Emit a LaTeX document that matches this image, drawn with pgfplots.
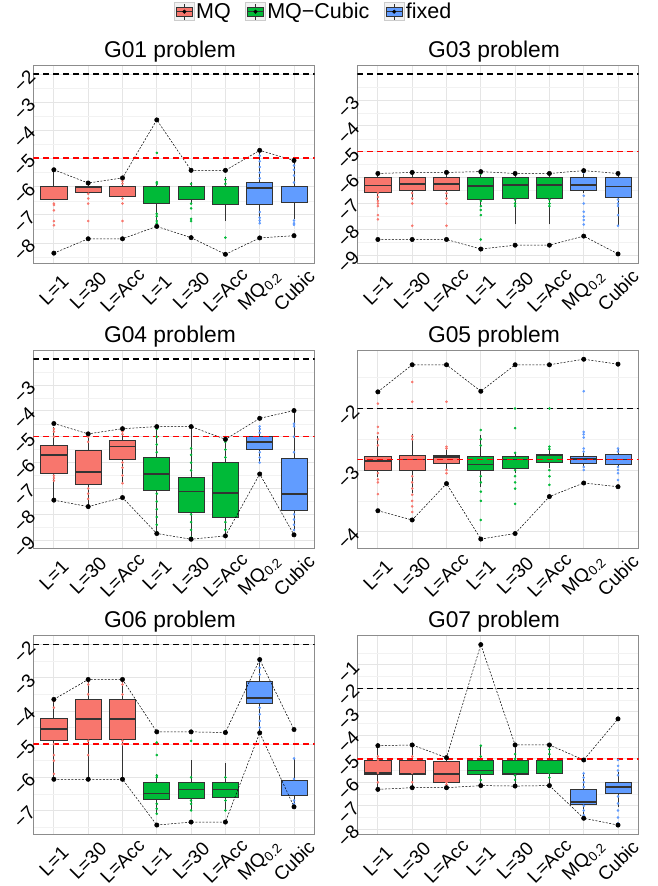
\documentclass[border=0pt]{standalone}
\usepackage{fontspec}
\setmainfont{Liberation Sans}
\usepackage{pgfplots}
\pgfplotsset{compat=1.18}
\definecolor{cR}{HTML}{F8766D}
\definecolor{cG}{HTML}{00BA38}
\definecolor{cB}{HTML}{619CFF}
\definecolor{bl}{HTML}{333333}
\definecolor{hred}{HTML}{FF0000}

% box: colour, position, lower whisker, lower quartile, median, upper quartile, upper whisker
\newcommand{\bx}[7]{%
  \pgfmathsetmacro{\xl}{#2-0.38}\pgfmathsetmacro{\xr}{#2+0.38}%
  \addplot[draw=bl, line width=0.8pt] coordinates {(#2,#3) (#2,#4)};
  \addplot[draw=bl, line width=0.8pt] coordinates {(#2,#6) (#2,#7)};
  \addplot[draw=bl, fill=#1, line width=0.8pt] coordinates {(\xl,#4) (\xr,#4) (\xr,#6) (\xl,#6)} -- cycle;
  \addplot[draw=bl, line width=1.6pt] coordinates {(\xl,#5) (\xr,#5)};
}
\newcommand{\pts}[2]{\addplot[only marks, mark=*, mark size=1.1pt, draw=#1, fill=#1] coordinates {#2};}
\newcommand{\mm}[1]{\addplot[black, line width=0.5pt, dash pattern=on 2pt off 1.5pt, mark=*, mark size=2.2pt, mark options={solid, fill=black}] coordinates {#1};}
\newcommand{\hl}[2]{\addplot[color=#1, solid, line width=1.5pt, dash pattern=on 6pt off 4pt, mark=none] coordinates {(0.4,#2) (8.6,#2)};}
\newcommand{\legbox}[1]{%
  \draw[black!20, fill=black!5, line width=0.5pt] (0pt,-9pt) rectangle (20pt,9pt);
  \draw[bl, line width=0.6pt] (10pt,-8pt) -- (10pt,8pt);
  \draw[bl, fill=#1, line width=0.6pt] (2pt,-4.5pt) rectangle (18pt,4.5pt);
  \draw[bl, line width=0.6pt] (2pt,0pt) -- (18pt,0pt);
  \fill[black] (10pt,0pt) circle (1.8pt);}

\pgfplotsset{panel/.style={
  scale only axis, width=281.3pt, height=198.3pt, anchor=south west,
  xmin=0.4, xmax=8.6,
  xtick={1,2,3,4,5,6,7,8},
  xticklabels={{L=1},{L=30},{L=Acc},{L=1},{L=30},{L=Acc},{MQ\textsubscript{0.2}},{Cubic}},
  grid=both,
  major grid style={draw=black!10, line width=0.8pt},
  minor grid style={draw=black!5, line width=0.5pt},
  axis line style={draw=black!45, line width=0.9pt},
  major tick length=0pt, minor tick length=0pt,
  xticklabel style={font=\fontsize{19}{21}\selectfont, anchor=center, rotate=45},
  xticklabel shift=27pt,
  yticklabel style={font=\fontsize{19}{21}\selectfont, anchor=center, yshift=-7pt, rotate=45},
  yticklabel shift=9pt,
  title style={font=\fontsize{22.8}{25}\selectfont, at={(0.5,1)}, anchor=base, yshift=1.7pt, xshift=-4pt},
}}

\begin{document}
\begin{tikzpicture}
\useasboundingbox (0,0) rectangle (658pt,886pt);

% ---------------- G01
\begin{axis}[panel, at={(33.3pt,622.7pt)}, title={G01 problem},
  ymin=-8.72, ymax=-1.68,
  ytick={-8,-7,-6,-5,-4,-3,-2}, yticklabels={−8,−7,−6,−5,−4,−3,−2},
  minor ytick={-8.5,-7.5,-6.5,-5.5,-4.5,-3.5,-2.5},
  legend style={at={(0.996,1.2688)}, anchor=center, draw=none, fill=none,
    font=\fontsize{21.5}{23}\selectfont, nodes={inner sep=1.5pt},
    /tikz/every even column/.append style={column sep=13pt}},
  legend columns=3, legend cell align=left]
\addlegendimage{legend image code/.code={\legbox{cR}}}\addlegendentry{MQ}
\addlegendimage{legend image code/.code={\legbox{cG}}}\addlegendentry{MQ−Cubic}
\addlegendimage{legend image code/.code={\legbox{cB}}}\addlegendentry{fixed}
\bx{cR}{1}{-6.46}{-6.46}{-6.0}{-5.99}{-5.40}
\bx{cR}{2}{-6.19}{-6.19}{-6.02}{-5.98}{-5.87}
\bx{cR}{3}{-6.34}{-6.34}{-6.0}{-5.98}{-5.72}
\bx{cG}{4}{-7.2}{-6.6}{-6.0}{-5.99}{-5.84}
\bx{cG}{5}{-6.6}{-6.46}{-6.0}{-5.99}{-5.84}
\bx{cG}{6}{-7.22}{-6.63}{-6.0}{-5.99}{-5.66}
\bx{cB}{7}{-7.29}{-6.64}{-6.04}{-5.86}{-4.7}
\bx{cB}{8}{-7.14}{-6.55}{-6.0}{-5.99}{-5.07}
\pts{cR}{(1,-6.6)(1,-6.65)(1,-6.84)(1,-7.22)(1,-7.37)(2,-6.1)(2,-6.25)(2,-6.42)(2,-6.6)(2,-7.22)(3,-5.8)(3,-5.9)(3,-6.42)(3,-6.6)(3,-7.22)}
\pts{cG}{(4,-4.8)(4,-5.84)(4,-5.9)(4,-6.96)(4,-7.05)(4,-7.22)(4,-7.3)(5,-5.9)(5,-6.6)(5,-6.77)(5,-7.14)(5,-7.22)(6,-5.75)(6,-5.9)(6,-7.81)}
\pts{cB}{(7,-4.75)(7,-4.9)(7,-5.1)(7,-5.3)(7,-5.5)(7,-5.7)(7,-6.9)(7,-7.1)(7,-7.2)(7,-7.3)(8,-5.1)(8,-5.25)(8,-5.4)(8,-5.6)(8,-5.85)(8,-6.2)(8,-6.5)(8,-7.2)(8,-7.3)(8,-7.35)}
\mm{(1,-5.40)(2,-5.87)(3,-5.69)(4,-3.63)(5,-5.42)(6,-5.42)(7,-4.71)(8,-5.07)}
\mm{(1,-8.36)(2,-7.85)(3,-7.85)(4,-7.41)(5,-7.81)(6,-8.40)(7,-7.82)(8,-7.74)}
\hl{black}{-2}
\hl{hred}{-4.98}
\end{axis}

% ---------------- G03
\begin{axis}[panel, at={(357.3pt,622.7pt)}, title={G03 problem},
  ymin=-9.31, ymax=-1.65,
  ytick={-9,-8,-7,-6,-5,-4,-3}, yticklabels={−9,−8,−7,−6,−5,−4,−3},
  minor ytick={-8.5,-7.5,-6.5,-5.5,-4.5,-3.5,-2.5}]
\bx{cR}{1}{-6.87}{-6.56}{-6.31}{-5.99}{-5.85}
\bx{cR}{2}{-6.85}{-6.49}{-6.25}{-5.99}{-5.82}
\bx{cR}{3}{-6.85}{-6.49}{-6.25}{-5.99}{-5.82}
\bx{cG}{4}{-7.1}{-6.84}{-6.32}{-5.99}{-5.80}
\bx{cG}{5}{-7.81}{-6.79}{-6.29}{-5.99}{-5.84}
\bx{cG}{6}{-7.81}{-6.79}{-6.29}{-5.99}{-5.84}
\bx{cB}{7}{-6.6}{-6.51}{-6.29}{-5.99}{-5.76}
\bx{cB}{8}{-7.86}{-6.75}{-6.35}{-5.99}{-5.84}
\pts{cR}{(1,-6.6)(1,-6.75)(1,-6.9)(1,-7.0)(1,-7.1)(1,-7.45)(1,-7.61)(2,-6.6)(2,-6.8)(2,-7.0)(2,-7.86)(3,-6.6)(3,-6.8)(3,-7.0)(3,-7.86)}
\pts{cG}{(4,-5.85)(4,-6.9)(4,-7.1)(4,-7.25)(4,-7.45)(4,-8.39)(5,-6.85)(5,-7.0)(5,-7.1)(6,-6.85)(6,-7.0)(6,-7.1)}
\pts{cB}{(7,-5.8)(7,-6.7)(7,-7.0)(7,-7.32)(7,-7.5)(7,-7.64)(7,-7.81)(8,-6.85)(8,-7.0)(8,-7.1)(8,-7.45)(8,-7.86)}
\mm{(1,-5.84)(2,-5.80)(3,-5.80)(4,-5.77)(5,-5.84)(6,-5.84)(7,-5.73)(8,-5.84)}
\mm{(1,-8.39)(2,-8.39)(3,-8.39)(4,-8.76)(5,-8.61)(6,-8.61)(7,-8.26)(8,-8.95)}
\hl{black}{-2}
\hl{hred}{-5.0}
\end{axis}

% ---------------- G04
\begin{axis}[panel, at={(33.3pt,337.7pt)}, title={G04 problem},
  ymin=-9.31, ymax=-1.65,
  ytick={-9,-8,-7,-6,-5,-4,-3}, yticklabels={−9,−8,−7,−6,−5,−4,−3},
  minor ytick={-8.5,-7.5,-6.5,-5.5,-4.5,-3.5,-2.5}]
\bx{cR}{1}{-7.45}{-6.41}{-5.70}{-5.34}{-4.61}
\bx{cR}{2}{-7.70}{-6.85}{-6.36}{-5.54}{-4.93}
\bx{cR}{3}{-6.80}{-5.87}{-5.38}{-5.15}{-4.74}
\bx{cG}{4}{-8.74}{-7.07}{-6.45}{-5.79}{-4.61}
\bx{cG}{5}{-8.96}{-7.92}{-7.12}{-6.56}{-4.65}
\bx{cG}{6}{-8.83}{-8.11}{-7.18}{-6.0}{-5.10}
\bx{cB}{7}{-6.02}{-5.50}{-5.21}{-4.97}{-4.61}
\bx{cB}{8}{-8.6}{-7.85}{-7.21}{-5.83}{-3.99}
\pts{cR}{(1,-4.7)(1,-4.8)(1,-5.0)(1,-6.5)(1,-6.6)(1,-6.7)(2,-5.0)(2,-5.2)(2,-7.0)(2,-7.2)(2,-7.4)(3,-4.8)(3,-4.9)(3,-6.0)(3,-6.2)(3,-6.5)(3,-6.8)}
\pts{cG}{(4,-4.7)(4,-5.0)(4,-5.3)(4,-5.6)(4,-7.2)(4,-7.5)(4,-7.8)(4,-8.1)(4,-8.4)(4,-8.7)(5,-5.45)(5,-5.7)(5,-6.0)(5,-6.3)(5,-8.0)(5,-8.3)(5,-8.6)(5,-8.9)(6,-5.2)(6,-5.5)(6,-5.8)(6,-8.3)(6,-8.6)}
\pts{cB}{(7,-4.6)(7,-4.7)(7,-4.85)(7,-5.6)(7,-5.8)(7,-6.0)(8,-4.5)(8,-4.6)(8,-5.0)(8,-5.6)(8,-8.0)(8,-8.2)(8,-8.4)(8,-8.6)}
\mm{(1,-4.49)(2,-4.89)(3,-4.69)(4,-4.61)(5,-4.61)(6,-5.10)(7,-4.29)(8,-3.99)}
\mm{(1,-7.45)(2,-7.70)(3,-7.35)(4,-8.74)(5,-8.96)(6,-8.83)(7,-6.44)(8,-8.79)}
\hl{black}{-2}
\hl{hred}{-5.0}
\end{axis}

% ---------------- G05
\begin{axis}[panel, at={(357.3pt,337.7pt)}, title={G05 problem},
  ymin=-4.27, ymax=-1.05,
  ytick={-4,-3,-2}, yticklabels={−4,−3,−2},
  minor ytick={-3.5,-2.5,-1.5}]
\bx{cR}{1}{-3.11}{-3.0}{-2.85}{-2.77}{-2.45}
\bx{cR}{2}{-3.38}{-3.01}{-2.83}{-2.76}{-2.41}
\bx{cR}{3}{-3.0}{-2.89}{-2.79}{-2.76}{-2.65}
\bx{cG}{4}{-3.27}{-3.01}{-2.91}{-2.78}{-2.43}
\bx{cG}{5}{-3.05}{-2.97}{-2.83}{-2.78}{-2.70}
\bx{cG}{6}{-2.97}{-2.88}{-2.76}{-2.75}{-2.65}
\bx{cB}{7}{-2.95}{-2.89}{-2.82}{-2.77}{-2.70}
\bx{cB}{8}{-2.95}{-2.90}{-2.83}{-2.75}{-2.66}
\pts{cR}{(1,-1.92)(1,-2.3)(1,-2.4)(1,-2.5)(1,-2.6)(1,-3.05)(1,-3.15)(1,-3.2)(1,-3.39)(2,-1.57)(2,-1.89)(2,-2.45)(2,-2.5)(2,-3.1)(2,-3.2)(2,-3.3)(2,-3.4)(2,-3.5)(2,-3.59)(2,-3.68)(3,-1.89)(3,-2.62)(3,-2.65)(3,-3.0)(3,-3.05)}
\pts{cG}{(4,-2.35)(4,-2.5)(4,-2.6)(4,-3.1)(4,-3.2)(4,-3.35)(4,-3.5)(4,-3.81)(5,-2.0)(5,-2.32)(5,-2.72)(5,-3.0)(5,-3.1)(5,-3.2)(5,-3.3)(5,-3.55)(6,-2.0)(6,-2.62)(6,-2.66)(6,-3.0)(6,-3.1)(6,-3.24)}
\pts{cB}{(7,-1.72)(7,-2.38)(7,-2.42)(7,-2.47)(7,-2.65)(7,-2.7)(7,-2.95)(7,-3.0)(8,-2.65)(8,-2.7)(8,-2.95)(8,-3.0)(8,-3.05)(8,-3.16)}
\mm{(1,-1.73)(2,-1.29)(3,-1.29)(4,-1.72)(5,-1.29)(6,-1.29)(7,-1.20)(8,-1.28)}
\mm{(1,-3.66)(2,-3.81)(3,-3.22)(4,-4.12)(5,-4.03)(6,-3.43)(7,-3.21)(8,-3.27)}
\hl{black}{-2}
\hl{hred}{-2.83}
\end{axis}

% ---------------- G06
\begin{axis}[panel, at={(33.3pt,52pt)}, title={G06 problem},
  ymin=-7.71, ymax=-1.73,
  ytick={-7,-6,-5,-4,-3,-2}, yticklabels={−7,−6,−5,−4,−3,−2},
  minor ytick={-7.5,-6.5,-5.5,-4.5,-3.5,-2.5}]
\bx{cR}{1}{-6.06}{-4.88}{-4.55}{-4.23}{-3.65}
\bx{cR}{2}{-6.06}{-4.85}{-4.25}{-3.66}{-3.05}
\bx{cR}{3}{-6.06}{-4.85}{-4.25}{-3.66}{-3.05}
\bx{cG}{4}{-7.09}{-6.66}{-6.49}{-6.14}{-5.89}
\bx{cG}{5}{-6.99}{-6.64}{-6.37}{-6.14}{-5.48}
\bx{cG}{6}{-6.99}{-6.62}{-6.37}{-6.14}{-5.58}
\bx{cB}{7}{-4.66}{-3.78}{-3.61}{-3.10}{-2.45}
\bx{cB}{8}{-6.79}{-6.56}{-6.10}{-6.09}{-5.43}
\pts{cR}{(1,-3.7)(1,-3.9)(1,-5.0)(1,-5.33)(1,-5.5)(1,-5.9)(2,-3.1)(2,-3.2)(2,-3.5)(2,-4.9)(2,-5.33)(3,-3.1)(3,-3.2)(3,-3.5)(3,-4.9)(3,-5.0)}
\pts{cG}{(4,-4.95)(4,-5.33)(4,-5.95)(4,-6.0)(4,-6.8)(4,-6.95)(4,-7.1)(5,-4.9)(5,-6.0)(5,-6.7)(5,-6.8)(5,-7.0)(6,-4.65)(6,-6.0)(6,-6.7)(6,-7.0)}
\pts{cB}{(7,-2.5)(7,-2.7)(7,-2.9)(7,-3.9)(7,-4.1)(7,-4.3)(7,-4.5)(8,-5.43)(8,-6.05)(8,-6.7)(8,-6.8)}
\mm{(1,-3.65)(2,-3.05)(3,-3.05)(4,-4.63)(5,-4.63)(6,-4.65)(7,-2.45)(8,-4.56)}
\mm{(1,-6.06)(2,-6.06)(3,-6.06)(4,-7.44)(5,-7.35)(6,-7.35)(7,-4.66)(8,-6.89)}
\hl{black}{-2}
\hl{hred}{-5.0}
\end{axis}

% ---------------- G07
\begin{axis}[panel, at={(357.3pt,52pt)}, title={G07 problem},
  ymin=-8.2, ymax=0.24,
  ytick={-8,-7,-6,-5,-4,-3,-2,-1}, yticklabels={−8,−7,−6,−5,−4,−3,−2,−1},
  minor ytick={-7.5,-6.5,-5.5,-4.5,-3.5,-2.5,-1.5,-0.5}]
\bx{cR}{1}{-6.30}{-5.65}{-5.60}{-5.05}{-4.44}
\bx{cR}{2}{-6.23}{-5.66}{-5.62}{-5.05}{-4.41}
\bx{cR}{3}{-6.23}{-6.0}{-5.65}{-5.12}{-4.95}
\bx{cG}{4}{-6.14}{-5.65}{-5.50}{-5.05}{-4.44}
\bx{cG}{5}{-6.16}{-5.66}{-5.62}{-5.05}{-4.41}
\bx{cG}{6}{-6.14}{-5.62}{-5.08}{-5.05}{-4.41}
\bx{cB}{7}{-7.46}{-6.94}{-6.83}{-6.30}{-5.62}
\bx{cB}{8}{-7.04}{-6.47}{-6.21}{-6.0}{-5.55}
\pts{cR}{(1,-4.9)(1,-5.05)(1,-5.6)(1,-6.0)(2,-4.9)(2,-5.6)(2,-6.0)(3,-5.0)(3,-6.0)(3,-6.1)}
\pts{cG}{(4,-4.44)(4,-4.9)(4,-5.6)(4,-5.9)(5,-4.8)(5,-5.0)(5,-5.7)(5,-5.9)(6,-4.6)(6,-4.8)(6,-5.6)(6,-5.8)}
\pts{cB}{(7,-5.62)(7,-5.8)(7,-6.0)(7,-6.2)(7,-7.0)(7,-7.2)(7,-7.4)(8,-5.05)(8,-5.3)(8,-5.5)(8,-5.7)(8,-6.6)(8,-6.9)(8,-7.2)(8,-7.5)(8,-7.74)}
\mm{(1,-4.44)(2,-4.41)(3,-4.95)(4,-0.14)(5,-4.41)(6,-4.41)(7,-5.05)(8,-3.30)}
\mm{(1,-6.30)(2,-6.23)(3,-6.23)(4,-6.14)(5,-6.16)(6,-6.14)(7,-7.53)(8,-7.82)}
\hl{black}{-2}
\hl{hred}{-5.0}
\end{axis}
\end{tikzpicture}
\end{document}
